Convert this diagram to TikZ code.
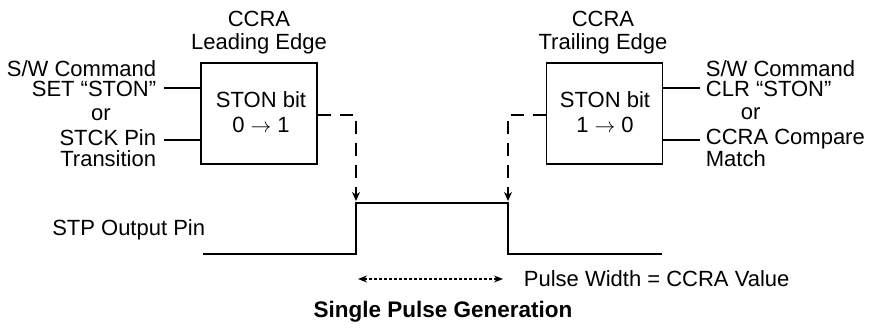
\documentclass[tikz,border=0pt]{standalone}
\usepackage{fontspec}
\setmainfont{Liberation Sans}
\usetikzlibrary{arrows.meta}
\begin{document}
\begin{tikzpicture}[x=1pt,y=-1pt,line width=1.8pt,
  txt/.style={inner sep=0pt,font=\fontsize{22}{26}\selectfont},
  bx/.style={draw,line width=1.8pt,inner sep=0pt,minimum width=116pt,minimum height=101pt},
  dsh/.style={line width=1.8pt,dash pattern=on 13pt off 9pt,-{Stealth[length=9pt,width=8pt]}},
  dotarr/.style={line width=1.2pt,dash pattern=on 3pt off 2pt,{Stealth[length=9pt,width=7pt]}-{Stealth[length=9pt,width=7pt]}}]
\useasboundingbox (0,0) rectangle (869,331);

% left block
\node[bx] (lbox) at (259,113.5) {};
\node[txt,anchor=base] (lh1) at (259,26.7) {CCRA};
\node[txt,anchor=base] (lh2) at (259,50) {Leading Edge};
\node[txt,anchor=base] (lt1) at (261,108) {STON bit};
\node[txt,anchor=base] (lt2) at (261,133) {0 $\rightarrow$ 1};
\node[txt,anchor=base east] (ls1) at (157,76.7) {S/W Command};
\node[txt,anchor=base east] (ls2) at (157,96.7) {SET “STON”};
\node[txt,anchor=base] (ls3) at (101,121) {or};
\node[txt,anchor=base east] (ls4) at (157,146) {STCK Pin};
\node[txt,anchor=base east] (ls5) at (157,166.7) {Transition};
\coordinate (li1) at (164,88.3);
\coordinate (li2) at (164,140);
\draw (li1) -- (li1 -| lbox.west);
\draw (li2) -- (li2 -| lbox.west);

% right block
\node[bx] (rbox) at (604.5,113.5) {};
\node[txt,anchor=base] (rh1) at (603,26.7) {CCRA};
\node[txt,anchor=base] (rh2) at (603,50) {Trailing Edge};
\node[txt,anchor=base] (rt1) at (605,108) {STON bit};
\node[txt,anchor=base] (rt2) at (605,133) {1 $\rightarrow$ 0};
\node[txt,anchor=base west] (rs1) at (705,76.7) {S/W Command};
\node[txt,anchor=base west] (rs2) at (705,96.7) {CLR “STON”};
\node[txt,anchor=base west] (rs3) at (740,120) {or};
\node[txt,anchor=base west] (rs4) at (705,145) {CCRA Compare};
\node[txt,anchor=base west] (rs5) at (705,166.7) {Match};
\coordinate (ro1) at (700,88.3);
\coordinate (ro2) at (700,140);
\draw (rbox.east |- ro1) -- (ro1);
\draw (rbox.east |- ro2) -- (ro2);

% pulse
\coordinate (p0) at (203,254);
\coordinate (p1) at (356,254);
\coordinate (p2) at (356,203.3);
\coordinate (p3) at (508,203.3);
\coordinate (p4) at (508,254);
\coordinate (p5) at (662,254);
\draw (p0) -- (p1) -- (p2) -- (p3) -- (p4) -- (p5);
\node[txt,anchor=base east] (stp) at (206,235) {STP Output Pin};

% dashed trigger lines
\coordinate (ltip) at (356,201);
\coordinate (rtip) at (508,201);
\draw[dsh] (lbox.east |- 0,115) -| (ltip);
\draw[dsh] (rbox.west |- 0,115) -| (rtip);

% pulse width
\coordinate (wa) at (358,279);
\coordinate (wb) at (503,279);
\draw[dotarr] (wa) -- (wb);
\node[txt,anchor=base west] (pw) at (523,286) {Pulse Width = CCRA Value};

\node[txt,font=\fontsize{22.5}{26}\selectfont\bfseries,anchor=base] (title) at (443,317.3) {Single Pulse Generation};
\end{tikzpicture}
\end{document}
